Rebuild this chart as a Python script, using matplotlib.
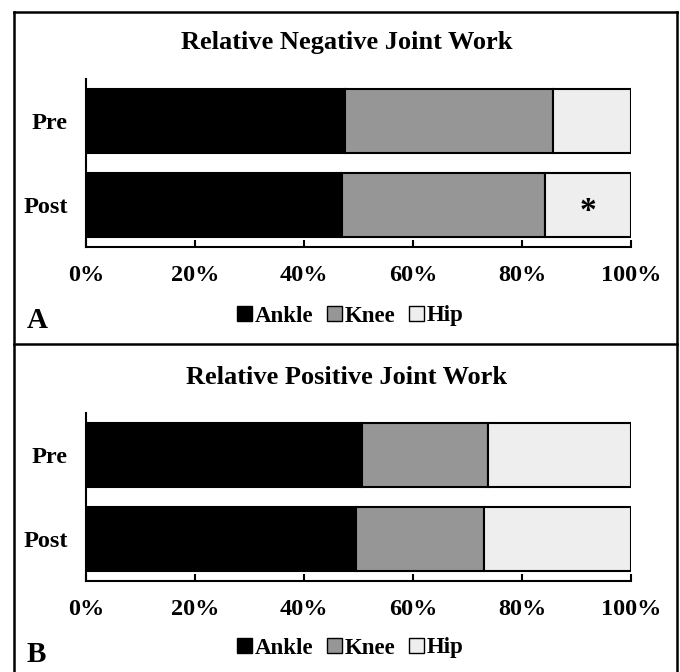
import matplotlib.pyplot as plt
from matplotlib.patches import Patch
from matplotlib.lines import Line2D

plt.rcParams['font.family'] = 'Liberation Serif'
plt.rcParams['font.weight'] = 'bold'

conditions = ['Pre', 'Post']
joints = ['Ankle', 'Knee', 'Hip']
colors = ['#000000', '#969696', '#eeeeee']

# percent of total joint work
neg_ankle = [47.6, 46.9]
neg_knee = [38.0, 37.4]
neg_hip = [14.4, 15.7]

pos_ankle = [50.7, 49.6]
pos_knee = [23.0, 23.4]
pos_hip = [26.3, 27.0]

W, H = 680, 672
fig = plt.figure(figsize=(W / 100, H / 100), dpi=100)


def px(x0, y0, x1, y1):
    return [x0 / W, 1 - y1 / H, (x1 - x0) / W, (y1 - y0) / H]


def panel(rect, title, parts, letter, title_y, legend_y, letter_y, star=False):
    ax = fig.add_axes(px(*rect))
    y = range(len(conditions))
    left = [0] * len(conditions)
    for vals, c, name in zip(parts, colors, joints):
        ax.barh(y, vals, left=left, height=0.77, color=c, edgecolor='black',
                linewidth=1.5, label=name)
        left = [a + b for a, b in zip(left, vals)]
    ax.set_ylim(1.5, -0.5)
    ax.set_xlim(0, 100)
    ax.set_yticks(list(y))
    ax.set_yticklabels(conditions, fontsize=17.5, fontweight='bold')
    ax.set_xticks([0, 20, 40, 60, 80, 100])
    ax.set_xticklabels(['0%', '20%', '40%', '60%', '80%', '100%'],
                       fontsize=17.5, fontweight='bold')
    ax.tick_params(axis='y', length=0, pad=13)
    ax.tick_params(axis='x', direction='in', length=5, width=1.5, pad=13)
    for s in ['top', 'right']:
        ax.spines[s].set_visible(False)
    for s in ['left', 'bottom']:
        ax.spines[s].set_linewidth(1.5)
    if star:
        hip_left = parts[0][1] + parts[1][1]
        ax.text(hip_left + parts[2][1] / 2, 1.08, '*', ha='center', va='center',
                fontsize=24, fontweight='bold')
    fig.text(347 / W, 1 - title_y / H, title, ha='center', va='center',
             fontsize=19, fontweight='bold')
    handles = [Patch(facecolor=c, edgecolor='black', linewidth=1) for c in colors]
    fig.legend(handles, joints, loc='center', bbox_to_anchor=(350 / W, 1 - legend_y / H),
               ncol=3, frameon=False, handlelength=0.65, handleheight=0.65,
               handletextpad=0.12, columnspacing=0.6,
               prop={'size': 16.5, 'weight': 'bold'})
    fig.text(27 / W, 1 - letter_y / H, letter, ha='left', va='center',
             fontsize=21, fontweight='bold')


panel((86, 79, 631, 247), 'Relative Negative Joint Work',
      [neg_ankle, neg_knee, neg_hip], 'A', 42, 316, 321, star=True)
panel((86, 413, 631, 581), 'Relative Positive Joint Work',
      [pos_ankle, pos_knee, pos_hip], 'B', 377, 648, 655)

# outer frame and divider
for xs, ys in [([14, 677], [12, 12]), ([14, 14], [12, 672]), ([677, 677], [12, 672]),
               ([14, 677], [344, 344])]:
    fig.add_artist(Line2D([x / W for x in xs], [1 - v / H for v in ys],
                          color='black', linewidth=1.8))

fig.savefig('out.png', dpi=100)
